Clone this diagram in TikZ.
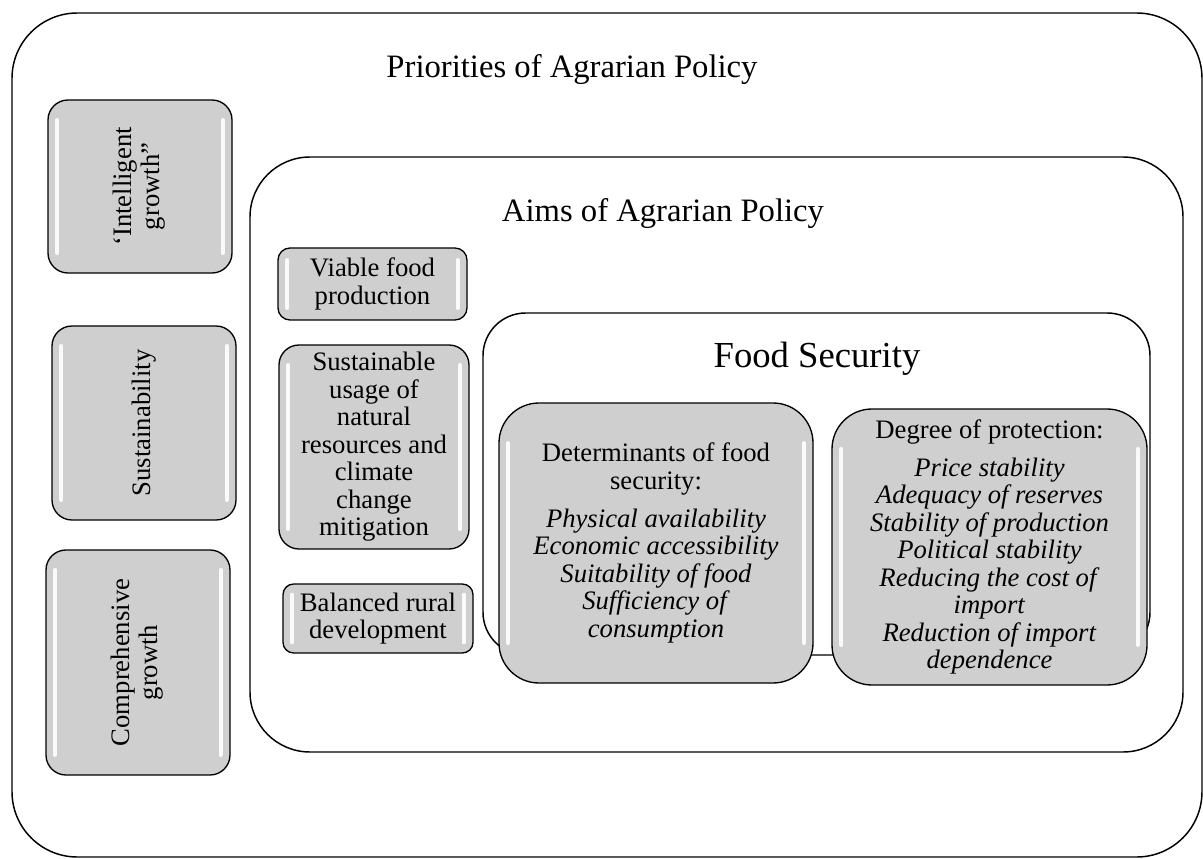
\documentclass[tikz,border=0pt]{standalone}
\usepackage{fontspec}
\setmainfont{Liberation Serif}
\usetikzlibrary{calc}

\definecolor{boxgray}{RGB}{207,207,207}

\tikzset{
  frame/.style={draw, line width=1.1pt, rounded corners=#1},
  frame/.default=40pt,
  hilite/.style={draw=white, line width=3pt, line cap=round, opacity=0.9},
  gbox/.style={draw, line width=1pt, fill=boxgray, rounded corners=#1,
    align=center, inner sep=0pt, font=\fontsize{20}{20.6}\selectfont,
    path picture={
      \coordinate (pnw) at ([xshift=7pt]path picture bounding box.north west);
      \coordinate (psw) at ([xshift=7pt]path picture bounding box.south west);
      \coordinate (pne) at ([xshift=-7pt]path picture bounding box.north east);
      \coordinate (pse) at ([xshift=-7pt]path picture bounding box.south east);
      \draw[hilite] ($(pnw)!#1!(psw)$) -- ($(psw)!#1!(pnw)$);
      \draw[hilite] ($(pne)!#1!(pse)$) -- ($(pse)!#1!(pne)$);
    }},
  gbox/.default=15pt,
  boxsize/.style 2 args={minimum width=#1*0.75pt, minimum height=#2*0.75pt},
  title/.style={anchor=base, font=\fontsize{24.5}{28}\selectfont},
}

\begin{document}
\begin{tikzpicture}[x=0.75pt,y=0.75pt,yscale=-1,xscale=1]
\useasboundingbox (0,0) rectangle (1203,859);

%Shape: Rounded Rect [id:priorities frame]
\draw[frame=49pt] (12,13) rectangle (1202,857);
%Shape: Rounded Rect [id:aims frame]
\draw[frame=45pt] (250,157) rectangle (1183,752);
%Shape: Rounded Rect [id:food security frame]
\draw[frame=32pt] (483,313) rectangle (1150,655);

%Text Node
\node[title] (prio) at (572,78) {Priorities of Agrarian Policy};
%Text Node
\node[title] (aims) at (663,222) {Aims of Agrarian Policy};
%Text Node
\node[title, font=\fontsize{27.5}{30}\selectfont] (foodsec) at (817,367) {Food Security};

%Priorities
\node[gbox, boxsize={184}{173}] (intel) at (140,186.5)
  {\rotatebox{90}{\begin{tabular}{@{}c@{}}‘Intelligent\\ growth”\end{tabular}}};
\node[gbox, boxsize={184}{194}] (sust) at (144,423)
  {\rotatebox{90}{Sustainability}};
\node[gbox, boxsize={184}{225}] (compr) at (138,662.5)
  {\rotatebox{90}{\begin{tabular}{@{}c@{}}Comprehensive\\ growth\end{tabular}}};

%Aims
\node[gbox=9pt, boxsize={189}{72}] (viable) at (372.5,284)
  {Viable food\\ production};
\node[gbox, boxsize={190}{204}] (natres) at (374,447)
  {Sustainable\\ usage of\\ natural\\ resources and\\ climate\\ change\\ mitigation};
\node[gbox=8pt, boxsize={190}{69}] (rural) at (378,618.5)
  {Balanced rural\\ development};

%Food security
\node[gbox=30pt, boxsize={314}{280}] (determ) at (656,543)
  {Determinants of food\\ security:\\[8pt]
   \textit{Physical availability}\\ \textit{Economic accessibility}\\
   \textit{Suitability of food}\\ \textit{Sufficiency of}\\ \textit{consumption}};
\node[gbox=30pt, boxsize={315}{276}] (degree) at (989.5,547)
  {Degree of protection:\\[8pt]
   \textit{Price stability}\\ \textit{Adequacy of reserves}\\
   \textit{Stability of production}\\ \textit{Political stability}\\
   \textit{Reducing the cost of}\\ \textit{import}\\
   \textit{Reduction of import}\\ \textit{dependence}};

\end{tikzpicture}
\end{document}
